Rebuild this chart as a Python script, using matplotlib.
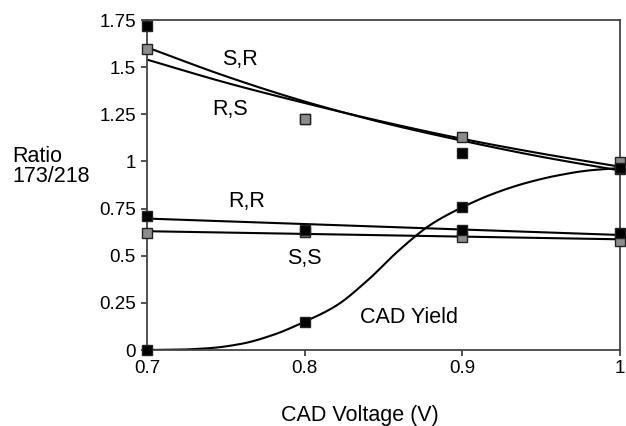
import matplotlib
matplotlib.use("Agg")
import matplotlib.pyplot as plt
import numpy as np

plt.rcParams['font.family'] = ['Liberation Sans', 'DejaVu Sans']

# measured points (CAD voltage in V)
volts = [0.7, 0.8, 0.9, 1.0]
sr_black = [1.72, 1.225, 1.044, 0.96]
sr_gray = [1.594, 1.225, 1.131, 0.998]
rr_black = [0.712, 0.636, 0.636, 0.62]
ss_gray = [0.62, 0.625, 0.60, 0.578]
cad_yield = [0.0, 0.15, 0.757, 0.965]

# fitted curves
fit_x = [0.7, 0.75, 0.8, 0.85, 0.9, 0.95, 1.0]
fit_sr = [1.605, 1.452, 1.318, 1.205, 1.11, 1.025, 0.952]
fit_rs = [1.54, 1.418, 1.31, 1.21, 1.12, 1.042, 0.972]
line_x = [0.7, 1.0]
fit_rr = [0.697, 0.61]
fit_ss = [0.63, 0.587]
cad_x = [0.7, 0.72, 0.74, 0.76, 0.78, 0.8, 0.82, 0.84, 0.86, 0.88,
         0.9, 0.92, 0.94, 0.96, 0.98, 1.0]
cad_fit = [0.0, 0.002, 0.01, 0.033, 0.08, 0.15, 0.235, 0.37, 0.53, 0.665,
           0.757, 0.83, 0.885, 0.925, 0.952, 0.965]

yticks = [0, 0.25, 0.5, 0.75, 1, 1.25, 1.5, 1.75]
ytick_labels = ['0', '0.25', '0.5', '0.75', '1', '1.25', '1.5', '1.75']
xticks = [0.7, 0.8, 0.9, 1.0]
xtick_labels = ['0.7', '0.8', '0.9', '1']


def smooth(xs, ys, n=20):
    # monotone cubic hermite through the read points (fritsch-carlson)
    x = np.asarray(xs, float)
    y = np.asarray(ys, float)
    h = np.diff(x)
    d = np.diff(y) / h
    m = np.zeros_like(y)
    m[0], m[-1] = d[0], d[-1]
    for i in range(1, len(x) - 1):
        if d[i - 1] * d[i] > 0:
            w1 = 2 * h[i] + h[i - 1]
            w2 = h[i] + 2 * h[i - 1]
            m[i] = (w1 + w2) / (w1 / d[i - 1] + w2 / d[i])
    xx, yy = [], []
    for i in range(len(h)):
        t = np.linspace(0, 1, n, endpoint=False)
        h00 = 2 * t**3 - 3 * t**2 + 1
        h10 = t**3 - 2 * t**2 + t
        h01 = -2 * t**3 + 3 * t**2
        h11 = t**3 - t**2
        xx.extend(x[i] + t * h[i])
        yy.extend(h00 * y[i] + h10 * h[i] * m[i] + h01 * y[i + 1] + h11 * h[i] * m[i + 1])
    xx.append(x[-1])
    yy.append(y[-1])
    return xx, yy


fig = plt.figure(figsize=(6.26, 4.26), dpi=100)
ax = fig.add_axes([0.2348, 0.1784, 0.7556, 0.7746])

lw = 1.5
for ys in (fit_sr, fit_rs):
    ax.plot(*smooth(fit_x, ys), color='black', lw=lw, zorder=2)
ax.plot(line_x, fit_rr, color='black', lw=lw, zorder=2)
ax.plot(line_x, fit_ss, color='black', lw=lw, zorder=2)
ax.plot(*smooth(cad_x, cad_fit), color='black', lw=lw, zorder=2)

mk = dict(marker='s', ls='none', ms=7.5, mec='#222222', mew=1.0, clip_on=False)
ax.plot(volts, sr_black, mfc='black', zorder=3, **mk)
ax.plot(volts, sr_gray, mfc='#8c8c8c', zorder=4, **mk)
ax.plot(volts, ss_gray, mfc='#8c8c8c', zorder=3, **mk)
ax.plot(volts, rr_black, mfc='black', zorder=4, **mk)
ax.plot(volts, cad_yield, mfc='black', zorder=4, **mk)

fs = 15.5
ax.text(0.759, 1.54, 'S,R', fontsize=fs, ha='center', va='center')
ax.text(0.753, 1.273, 'R,S', fontsize=fs, ha='center', va='center')
ax.text(0.763, 0.786, 'R,R', fontsize=fs, ha='center', va='center')
ax.text(0.80, 0.483, 'S,S', fontsize=fs, ha='center', va='center')
ax.text(0.866, 0.171, 'CAD Yield', fontsize=fs, ha='center', va='center')

ax.set_xlim(0.7, 1.0)
ax.set_ylim(0, 1.75)
ax.set_xticks(xticks)
ax.set_xticklabels(xtick_labels)
ax.set_yticks(yticks)
ax.set_yticklabels(ytick_labels)
ax.tick_params(axis='both', labelsize=13.5, length=4, width=1.2, color='#333333')
ax.tick_params(axis='x', pad=3)
ax.tick_params(axis='y', pad=4)
for s in ax.spines.values():
    s.set_color('#444444')
    s.set_linewidth(1.3)

fig.text(360 / 626, 1 - 415 / 426, 'CAD Voltage (V)', fontsize=fs,
         ha='center', va='center')
fig.text(12 / 626, 1 - 146 / 426, 'Ratio\n173/218', fontsize=fs,
         ha='left', va='top', linespacing=0.95)

fig.savefig('out.png', dpi=100)
